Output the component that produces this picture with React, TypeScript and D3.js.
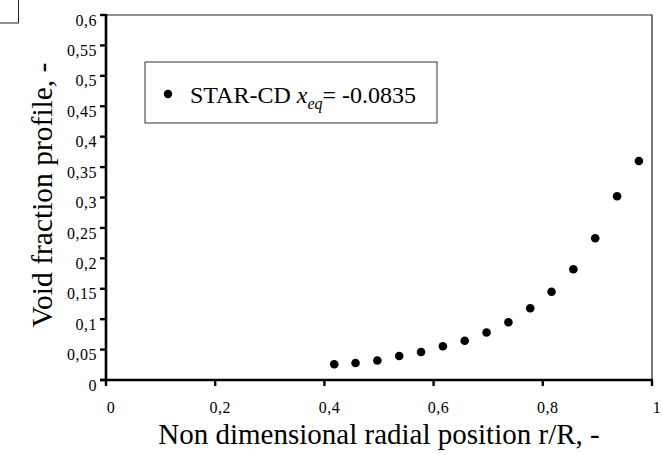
import React from "react";
import * as d3 from "d3";

const xValues = [0.418, 0.457, 0.497, 0.537, 0.577, 0.617, 0.657, 0.697, 0.737, 0.777, 0.816, 0.856, 0.896, 0.936, 0.976];
const yValues = [0.026, 0.028, 0.032, 0.0395, 0.046, 0.0555, 0.0645, 0.078, 0.095, 0.118, 0.145, 0.182, 0.233, 0.302, 0.36];
const xTicks = [0, 0.2, 0.4, 0.6, 0.8, 1];
const yTicks = [0, 0.05, 0.1, 0.15, 0.2, 0.25, 0.3, 0.35, 0.4, 0.45, 0.5, 0.55, 0.6];
const xTitle = "Non dimensional radial position r/R, -";
const yTitle = "Void fraction profile, -";
const seriesName = "STAR-CD";
const seriesValue = "= -0.0835";

const W = 663;
const H = 455;
const FONT = "Liberation Serif, Times New Roman, DejaVu Serif, serif";
const ts = { fontFamily: FONT };

const fmt = (v: number) => {
  const s = d3.format("~g")(v);
  return s.replace(".", ",");
};

export default function App() {
  const x = d3.scaleLinear().domain([0, 1]).range([106, 652]);
  const y = d3.scaleLinear().domain([0, 0.6]).range([380, 15]);
  const data = xValues.map((v, i) => ({ x: v, y: yValues[i] }));

  return (
    <svg
      width={W}
      height={H}
      style={{ position: "absolute", left: 0, top: 0, background: "#fff", fontFamily: FONT }}
    >
      <rect x={0} y={0} width={W} height={H} fill="#fff" />
      {/* stray box top-left */}
      <rect x={-2} y={-2} width={20.5} height={25} fill="none" stroke="#222" strokeWidth={1} />

      {/* plot border top/right */}
      <path
        d={`M${x(0)},${y(0.6)}H${x(1)}V${y(0)}`}
        fill="none"
        stroke="#222"
        strokeWidth={1.2}
      />

      {/* y axis */}
      <line x1={x(0)} x2={x(0)} y1={y(0.6) - 1} y2={y(0) + 1} stroke="#000" strokeWidth={2.6} />
      {yTicks.map((t) => (
        <g key={"y" + t}>
          <line x1={x(0) - 6} x2={x(0)} y1={y(t)} y2={y(t)} stroke="#000" strokeWidth={2.4} />
          <text
            x={97}
            y={y(t) + 5}
            dy="0.35em"
            textAnchor="end"
            fontSize={16}
            letterSpacing={0.5}
            fill="#000"
            style={ts}
          >
            {fmt(t)}
          </text>
        </g>
      ))}

      {/* x axis */}
      <line x1={x(0) - 6} x2={x(1) + 1} y1={y(0)} y2={y(0)} stroke="#000" strokeWidth={2.6} />
      {xTicks.map((t) => (
        <g key={"x" + t}>
          <line x1={x(t)} x2={x(t)} y1={y(0)} y2={y(0) + 6} stroke="#000" strokeWidth={2.4} />
          <text
            x={x(t) + 5}
            y={413}
            textAnchor="middle"
            fontSize={16}
            letterSpacing={0.5}
            fill="#000"
            style={ts}
          >
            {fmt(t)}
          </text>
        </g>
      ))}

      {/* points */}
      {data.map((d, i) => (
        <circle key={i} cx={x(d.x)} cy={y(d.y)} r={4.3} fill="#000" />
      ))}

      {/* legend */}
      <rect x={145} y={62} width={292} height={61} fill="#fff" stroke="#333" strokeWidth={1} />
      <circle cx={168} cy={94} r={4.2} fill="#000" />
      <text x={190} y={103} fontSize={24} fill="#000" style={ts}>
        {seriesName + " "}
        <tspan fontStyle="italic">x</tspan>
        <tspan fontStyle="italic" fontSize={16} dy={6}>eq</tspan>
        <tspan dy={-6}>{seriesValue}</tspan>
      </text>

      {/* axis titles */}
      <text x={379} y={444} textAnchor="middle" fontSize={29} fill="#000" style={ts}>
        {xTitle}
      </text>
      <text
        transform={`translate(52,195) rotate(-90)`}
        textAnchor="middle"
        fontSize={29.5}
        fill="#000"
        style={ts}
      >
        {yTitle}
      </text>
    </svg>
  );
}
